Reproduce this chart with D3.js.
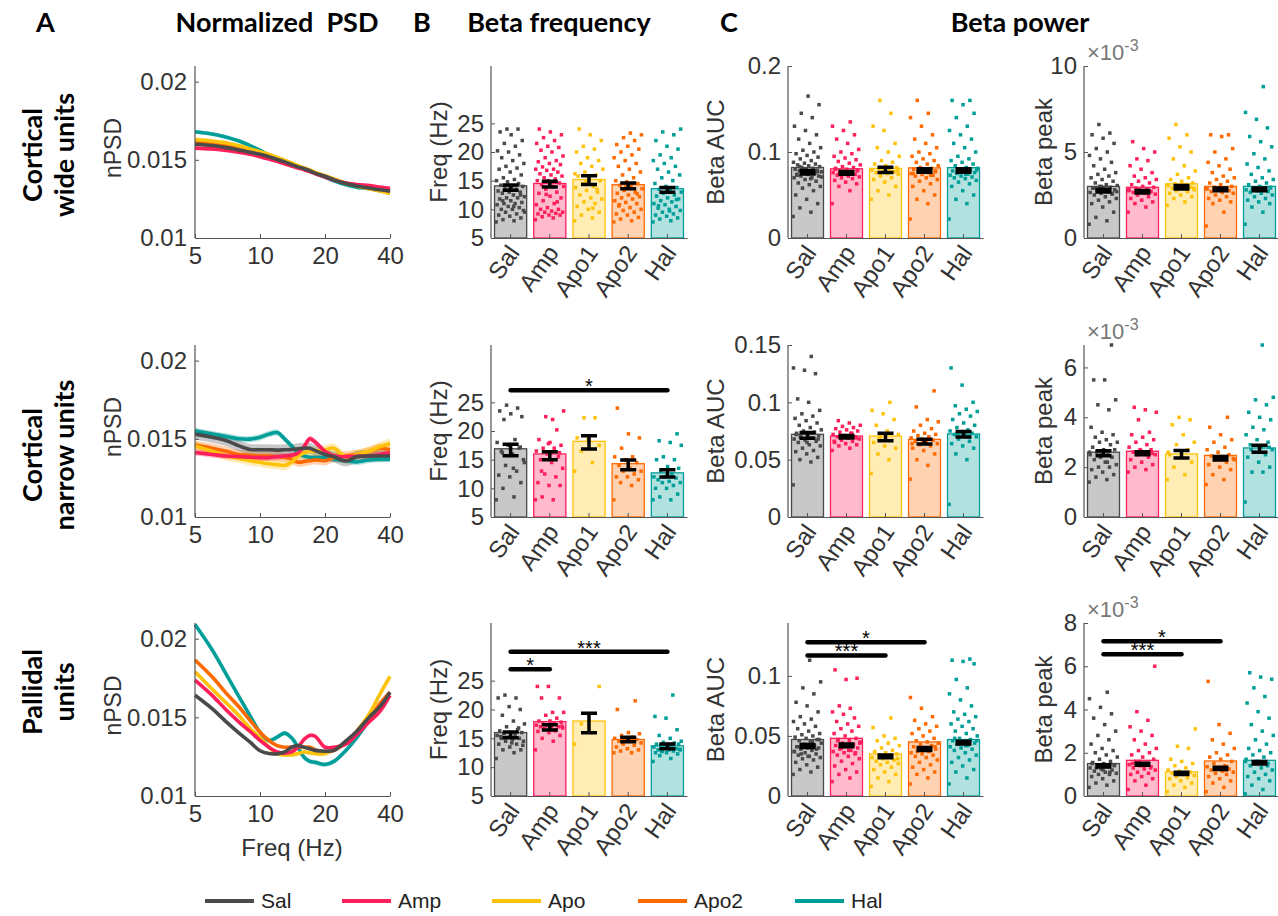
<!DOCTYPE html>
<html>
<head>
<meta charset="utf-8">
<script src="https://cdn.jsdelivr.net/npm/d3@7"></script>
<style>
  body { margin: 0; background: #fff; }
</style>
</head>
<body>
<div id="chart-area"></div>
<script>
// ---- data ----
var groups = ["Sal", "Amp", "Apo1", "Apo2", "Hal"];
var legendLabels = ["Sal", "Amp", "Apo", "Apo2", "Hal"];

// PSD frequency grid (Hz) and normalized PSD per group (Sal, Amp, Apo, Apo2, Hal)
var psdFreq = [5, 6, 7, 8, 9, 10, 11, 12, 13, 14, 15, 16, 17, 18, 20, 22, 25, 28, 32, 36, 40];
var psdWide = [
  [0.0160, 0.01592, 0.01578, 0.01563, 0.01548, 0.01535, 0.0152, 0.01502, 0.01487, 0.0147, 0.01455, 0.01443, 0.0143, 0.01415, 0.01395, 0.01372, 0.01348, 0.01333, 0.0132, 0.01308, 0.0130],
  [0.01575, 0.0157, 0.0156, 0.01548, 0.01535, 0.0152, 0.01505, 0.0149, 0.01475, 0.0146, 0.01448, 0.01437, 0.01425, 0.01412, 0.0139, 0.0137, 0.01352, 0.01342, 0.01335, 0.01325, 0.01318],
  [0.0163, 0.0162, 0.01608, 0.0159, 0.0157, 0.01552, 0.01535, 0.01515, 0.01497, 0.0148, 0.01463, 0.01448, 0.01435, 0.0142, 0.01398, 0.01378, 0.0135, 0.01333, 0.01315, 0.013, 0.01285],
  [0.0161, 0.01602, 0.0159, 0.01573, 0.01557, 0.0154, 0.01523, 0.01505, 0.01488, 0.01472, 0.01457, 0.01444, 0.0143, 0.01418, 0.01397, 0.01375, 0.0135, 0.01334, 0.01322, 0.0131, 0.01298],
  [0.0168, 0.01665, 0.01645, 0.0162, 0.0159, 0.0156, 0.0153, 0.0151, 0.0149, 0.01472, 0.01457, 0.01443, 0.0143, 0.01413, 0.0139, 0.01365, 0.0134, 0.01325, 0.01315, 0.01303, 0.0129]
];
var psdNarrow = [
  [0.0153, 0.0151, 0.01488, 0.01455, 0.01432, 0.0143, 0.0143, 0.01428, 0.0143, 0.01432, 0.01437, 0.0144, 0.0144, 0.01425, 0.0140, 0.01385, 0.01358, 0.01385, 0.0139, 0.0139, 0.0139],
  [0.01413, 0.014, 0.0139, 0.01386, 0.01382, 0.0138, 0.0138, 0.01385, 0.0139, 0.01395, 0.0141, 0.0145, 0.0150, 0.0148, 0.0142, 0.0139, 0.01385, 0.0139, 0.0139, 0.0140, 0.0141],
  [0.01455, 0.0142, 0.0139, 0.01375, 0.0136, 0.0135, 0.0134, 0.01335, 0.0133, 0.0135, 0.0139, 0.0141, 0.0142, 0.0142, 0.0143, 0.0144, 0.0138, 0.0140, 0.0142, 0.0145, 0.0147],
  [0.0146, 0.0144, 0.0142, 0.0140, 0.01395, 0.0139, 0.0139, 0.01385, 0.0138, 0.0137, 0.0135, 0.01355, 0.0136, 0.01365, 0.0136, 0.0138, 0.0139, 0.0140, 0.0142, 0.0144, 0.0143],
  [0.0155, 0.0153, 0.01515, 0.0150, 0.01498, 0.0151, 0.0153, 0.0154, 0.0150, 0.01455, 0.0141, 0.0139, 0.01382, 0.0138, 0.01378, 0.0137, 0.01362, 0.01352, 0.01365, 0.0137, 0.0137]
];
var psdPallidal = [
  [0.01641, 0.01556, 0.0147, 0.0140, 0.01342, 0.01288, 0.0127, 0.01268, 0.0128, 0.0131, 0.0132, 0.0131, 0.0130, 0.0129, 0.01285, 0.0129, 0.0135, 0.0141, 0.0150, 0.0157, 0.0166],
  [0.01737, 0.0164, 0.01545, 0.0147, 0.0141, 0.01353, 0.0131, 0.0128, 0.01272, 0.0128, 0.0131, 0.0136, 0.01385, 0.0138, 0.0131, 0.0131, 0.0133, 0.0139, 0.0147, 0.0154, 0.0164],
  [0.0179, 0.0168, 0.0159, 0.0151, 0.0143, 0.0137, 0.0131, 0.0127, 0.01262, 0.01262, 0.0127, 0.0128, 0.01275, 0.0127, 0.0127, 0.0130, 0.0134, 0.0141, 0.0152, 0.0165, 0.0176],
  [0.01865, 0.01758, 0.01651, 0.01566, 0.0148, 0.01406, 0.01353, 0.0132, 0.0131, 0.0131, 0.01315, 0.0131, 0.0131, 0.01295, 0.01278, 0.0129, 0.0134, 0.0140, 0.0149, 0.0159, 0.0166],
  [0.0209, 0.0193, 0.0177, 0.0163, 0.0151, 0.01406, 0.01353, 0.01374, 0.0140, 0.0137, 0.0131, 0.01246, 0.0122, 0.01214, 0.0120, 0.0122, 0.0129, 0.0137, 0.0148, 0.0158, 0.0164]
];
var psdSemWide = [0.00012, 0.00012, 0.00012, 0.00012, 0.00012];
var psdSemNarrow = [0.00035, 0.0002, 0.0003, 0.0003, 0.0002];
var psdSemPallidal = [0.0001, 0.00012, 0.00015, 0.0001, 0.00015];

// Beta frequency (Hz)
var freqBarWide = [14.1, 14.5, 15.2, 14.3, 13.6];
var freqMeanWide = [13.8, 14.4, 15.1, 14.1, 13.4];
var freqSemWide = [0.45, 0.5, 0.75, 0.5, 0.4];
var freqPtsWide = [
  [7.8, 8, 8.2, 8.5, 8.8, 9, 9.2, 9.5, 9.8, 10, 10, 10.3, 10.5, 10.8, 11, 11, 11.2, 11.5, 11.8, 12, 12, 12.2, 12.5, 12.8, 13, 13, 13.2, 13.5, 13.8, 14, 14, 14.2, 14.5, 14.8, 15, 15.2, 15.5, 16, 16.5, 17, 17.2, 17.5, 18, 18.5, 19, 19.5, 20, 20.2, 21, 21.5, 22, 23, 23.5, 24, 24, 9.5, 10.5, 11.5, 12.5, 13.5],
  [8.2, 8.5, 8.7, 9, 9, 9.2, 9.3, 9.5, 9.5, 9.7, 10, 10, 10.3, 10.8, 11, 11.5, 12, 12.3, 12.8, 13, 13.5, 14, 14, 14.3, 14.6, 15, 15, 15.3, 15.5, 15.8, 16, 16.2, 16.5, 16.8, 17, 17, 17.4, 17.8, 18, 18.3, 18.5, 19, 19.3, 20, 20.3, 20.8, 21, 21.5, 22, 22.5, 23, 23.5, 24, 11.3, 12.6],
  [8, 8.5, 9, 9.5, 10, 10.5, 11, 11.3, 11.8, 12, 12.5, 13, 13.3, 13.8, 14, 14.5, 15, 15.3, 15.8, 16, 16.5, 17, 17.5, 18, 18.5, 19, 20, 20.5, 21, 22, 23, 24, 13.5, 14.8, 16.2, 10.2],
  [7.8, 8, 8.3, 8.6, 9, 9.2, 9.5, 9.8, 10, 10.3, 10.6, 11, 11.2, 11.5, 11.8, 12, 12.2, 12.5, 12.8, 13, 13.3, 13.6, 14, 14.2, 14.5, 14.8, 15, 15.5, 16, 16.5, 17, 17.5, 18, 18.5, 19, 19.5, 20, 20.5, 21, 21.3, 22, 22.5, 23, 23.3, 10.8, 12.7, 13.9],
  [7.8, 8, 8.3, 8.5, 8.8, 9, 9.2, 9.5, 9.8, 10, 10.2, 10.5, 10.8, 11, 11.3, 11.5, 11.8, 12, 12.3, 12.5, 12.8, 13, 13.3, 13.5, 13.8, 14, 14.5, 15, 15.5, 16, 16.5, 17, 17.5, 18, 18.5, 19, 19.5, 20.5, 21, 22, 23, 23.5, 24, 9.7, 10.6, 11.7]
];
var freqBarNarrow = [16.9, 16.0, 18.2, 14.3, 12.7];
var freqMeanNarrow = [16.7, 15.7, 18.0, 14.1, 12.6];
var freqSemNarrow = [1.0, 0.7, 1.15, 0.85, 0.63];
var freqPtsNarrow = [
  [8, 8.5, 10, 11, 12, 12.3, 13, 14, 15, 16, 16.5, 17, 17.5, 18, 18.5, 22, 22.5, 23, 23.5, 24, 24.5, 14.5, 13.5, 16.2, 17.2],
  [8, 8, 8.5, 10.5, 10.5, 11, 12, 12.5, 13.5, 14.5, 15, 15.5, 16, 16.5, 17, 17, 17.5, 18, 18.5, 20.2, 22.5, 23.5, 22, 13, 16.2, 17.8],
  [13, 14.5, 16.5, 17.5, 18.5, 18.8, 22.3, 22.3],
  [8, 10.5, 11, 11.5, 12, 12, 12.5, 13, 13, 13.5, 14, 14.5, 15, 15.5, 15.5, 17, 18.8, 19.5, 24],
  [8, 8, 8.5, 9, 10, 10, 10.5, 11, 11, 11.2, 11.5, 11.8, 12, 12, 12.5, 13, 13.5, 13.8, 15, 15, 15.5, 17.5, 18, 18.3, 19.5]
];
var freqSigNarrow = [[0, 4, 27.1, "*"]];
var freqBarPall = [16.0, 17.9, 18.0, 14.8, 13.7];
var freqMeanPall = [15.6, 16.9, 17.65, 14.8, 13.6];
var freqSemPall = [0.5, 0.45, 1.7, 0.4, 0.4];
var freqPtsPall = [
  [11.5, 12.5, 13, 13, 13.5, 14, 14, 14.5, 14.5, 14.8, 15, 15, 15.2, 15.5, 15.5, 15.8, 16, 16, 16.3, 16.5, 17, 17.5, 18, 19, 20, 20.5, 22, 22, 22.5, 13.8, 14.2, 15.3, 16.8],
  [13, 14.5, 15, 15.5, 16, 16.2, 16.5, 16.5, 16.8, 17, 17, 17, 17.2, 17.3, 17.5, 17.5, 17.8, 18, 18, 18.5, 19, 19.5, 19.5, 22, 22, 24, 24, 16.3, 16.7, 17.1, 17.4],
  [14, 16, 17.5, 24],
  [12.5, 12.5, 12.8, 13, 13.2, 13.5, 13.8, 14, 14.2, 14.5, 14.5, 14.8, 15, 15, 15.2, 15.5, 15.8, 16, 20, 21.5],
  [11, 11.5, 12, 12.3, 12.5, 12.5, 12.8, 12.8, 13, 13, 13, 13.2, 13.3, 13.5, 13.5, 13.8, 14, 14, 14, 14.2, 14.3, 14.5, 15, 15.5, 16.5, 18.5, 18.8, 22.5, 12.7, 13.1, 13.7]
];
var freqSigPall = [[0, 4, 30, "***"], [0, 1, 27, "*"]];

// Beta AUC
var aucBarWide = [0.082, 0.0805, 0.081, 0.0815, 0.0818];
var aucMeanWide = [0.0765, 0.0757, 0.0792, 0.0785, 0.0785];
var aucSemWide = [0.002, 0.0015, 0.003, 0.002, 0.002];
var aucPtsWide = [
  [0.025, 0.03, 0.035, 0.04, 0.045, 0.05, 0.055, 0.058, 0.06, 0.062, 0.064, 0.066, 0.068, 0.07, 0.07, 0.072, 0.072, 0.074, 0.074, 0.075, 0.076, 0.077, 0.078, 0.078, 0.079, 0.08, 0.08, 0.081, 0.082, 0.083, 0.084, 0.085, 0.086, 0.087, 0.088, 0.09, 0.092, 0.094, 0.096, 0.098, 0.1, 0.102, 0.105, 0.11, 0.115, 0.12, 0.125, 0.13, 0.14, 0.145, 0.155, 0.165, 0.073, 0.076, 0.079, 0.071, 0.069, 0.083, 0.077, 0.075],
  [0.04, 0.055, 0.06, 0.063, 0.065, 0.067, 0.069, 0.07, 0.071, 0.072, 0.073, 0.074, 0.075, 0.076, 0.077, 0.078, 0.079, 0.08, 0.081, 0.082, 0.083, 0.085, 0.087, 0.089, 0.091, 0.093, 0.095, 0.098, 0.1, 0.103, 0.11, 0.115, 0.12, 0.125, 0.13, 0.135, 0.075, 0.078, 0.074, 0.08],
  [0.045, 0.05, 0.055, 0.06, 0.065, 0.068, 0.07, 0.072, 0.074, 0.075, 0.076, 0.077, 0.078, 0.079, 0.08, 0.081, 0.082, 0.084, 0.086, 0.088, 0.09, 0.095, 0.1, 0.105, 0.11, 0.125, 0.13, 0.145, 0.16, 0.078, 0.076],
  [0.022, 0.04, 0.045, 0.05, 0.055, 0.06, 0.063, 0.066, 0.068, 0.07, 0.072, 0.073, 0.074, 0.075, 0.076, 0.077, 0.078, 0.079, 0.08, 0.081, 0.082, 0.084, 0.086, 0.088, 0.09, 0.092, 0.095, 0.098, 0.1, 0.105, 0.11, 0.115, 0.12, 0.13, 0.14, 0.145, 0.16, 0.077, 0.079, 0.075, 0.073],
  [0.022, 0.04, 0.045, 0.05, 0.055, 0.06, 0.063, 0.065, 0.067, 0.069, 0.07, 0.071, 0.072, 0.073, 0.074, 0.075, 0.076, 0.077, 0.078, 0.079, 0.08, 0.081, 0.082, 0.084, 0.086, 0.088, 0.09, 0.092, 0.095, 0.1, 0.105, 0.11, 0.115, 0.12, 0.125, 0.13, 0.14, 0.145, 0.155, 0.16, 0.16, 0.077, 0.079, 0.074]
];
var aucBarNarrow = [0.0721, 0.0706, 0.0706, 0.0677, 0.0724];
var aucMeanNarrow = [0.0712, 0.070, 0.0697, 0.0657, 0.0721];
var aucSemNarrow = [0.0025, 0.001, 0.0033, 0.002, 0.0024];
var aucPtsNarrow = [
  [0.028, 0.048, 0.05, 0.052, 0.055, 0.057, 0.058, 0.06, 0.062, 0.063, 0.065, 0.066, 0.067, 0.068, 0.069, 0.07, 0.071, 0.072, 0.073, 0.074, 0.075, 0.076, 0.078, 0.08, 0.082, 0.084, 0.086, 0.088, 0.09, 0.093, 0.1, 0.103, 0.125, 0.128, 0.13, 0.14, 0.07, 0.068, 0.065, 0.072],
  [0.058, 0.06, 0.062, 0.063, 0.064, 0.065, 0.066, 0.067, 0.068, 0.069, 0.07, 0.07, 0.071, 0.072, 0.073, 0.074, 0.075, 0.076, 0.077, 0.078, 0.079, 0.08, 0.082, 0.084, 0.069, 0.071, 0.066, 0.073],
  [0.038, 0.05, 0.055, 0.06, 0.062, 0.065, 0.067, 0.07, 0.072, 0.075, 0.08, 0.085, 0.09, 0.093, 0.1, 0.068],
  [0.033, 0.045, 0.05, 0.055, 0.058, 0.06, 0.062, 0.063, 0.064, 0.065, 0.066, 0.067, 0.068, 0.069, 0.07, 0.071, 0.072, 0.073, 0.075, 0.077, 0.08, 0.083, 0.085, 0.096, 0.11, 0.066, 0.064],
  [0.011, 0.05, 0.055, 0.06, 0.062, 0.064, 0.066, 0.068, 0.07, 0.071, 0.072, 0.073, 0.074, 0.075, 0.076, 0.078, 0.08, 0.082, 0.085, 0.088, 0.09, 0.092, 0.094, 0.097, 0.1, 0.115, 0.13, 0.07, 0.073]
];
var aucBarPall = [0.047, 0.048, 0.035, 0.045, 0.047];
var aucMeanPall = [0.0416, 0.0421, 0.033, 0.0391, 0.0444];
var aucSemPall = [0.0012, 0.0012, 0.0012, 0.0012, 0.0012];
var aucPtsPall = [
  [0.018, 0.02, 0.022, 0.024, 0.026, 0.028, 0.03, 0.031, 0.032, 0.033, 0.034, 0.035, 0.036, 0.037, 0.038, 0.039, 0.04, 0.04, 0.041, 0.042, 0.043, 0.044, 0.045, 0.046, 0.047, 0.048, 0.049, 0.05, 0.051, 0.052, 0.054, 0.056, 0.058, 0.06, 0.062, 0.064, 0.066, 0.07, 0.075, 0.078, 0.085, 0.09, 0.095, 0.113, 0.041, 0.039, 0.043, 0.037, 0.045, 0.035, 0.047, 0.033],
  [0.012, 0.015, 0.018, 0.02, 0.022, 0.025, 0.027, 0.029, 0.031, 0.033, 0.034, 0.035, 0.036, 0.037, 0.038, 0.039, 0.04, 0.041, 0.042, 0.043, 0.044, 0.045, 0.046, 0.047, 0.048, 0.05, 0.052, 0.054, 0.056, 0.058, 0.06, 0.062, 0.065, 0.068, 0.07, 0.073, 0.075, 0.098, 0.097, 0.105, 0.042, 0.04, 0.044, 0.038, 0.046, 0.036],
  [0.008, 0.012, 0.015, 0.018, 0.02, 0.022, 0.024, 0.026, 0.027, 0.028, 0.029, 0.03, 0.031, 0.032, 0.033, 0.034, 0.035, 0.036, 0.037, 0.038, 0.04, 0.042, 0.044, 0.046, 0.048, 0.05, 0.057, 0.065, 0.033, 0.031],
  [0.01, 0.015, 0.018, 0.02, 0.022, 0.024, 0.026, 0.028, 0.03, 0.032, 0.033, 0.034, 0.035, 0.036, 0.037, 0.038, 0.039, 0.04, 0.041, 0.042, 0.043, 0.044, 0.045, 0.046, 0.048, 0.05, 0.052, 0.054, 0.056, 0.058, 0.06, 0.063, 0.066, 0.073, 0.082, 0.039, 0.037, 0.041],
  [0.01, 0.015, 0.02, 0.022, 0.025, 0.028, 0.03, 0.032, 0.034, 0.036, 0.038, 0.039, 0.04, 0.041, 0.042, 0.043, 0.044, 0.045, 0.046, 0.047, 0.048, 0.05, 0.052, 0.054, 0.056, 0.058, 0.06, 0.062, 0.064, 0.066, 0.068, 0.07, 0.075, 0.08, 0.085, 0.09, 0.097, 0.11, 0.112, 0.113, 0.114, 0.044, 0.046, 0.042, 0.048]
];
var aucSigPall = [[0, 3, 0.128, "*"], [0, 2, 0.117, "***"]];

// Beta peak (x 10^-3)
var peakBarWide = [3.0, 2.95, 3.15, 3.0, 3.0];
var peakMeanWide = [2.75, 2.69, 2.95, 2.83, 2.83];
var peakSemWide = [0.08, 0.07, 0.1, 0.08, 0.08];
var peakPtsWide = [
  [0.8, 1, 1.2, 1.5, 1.8, 2, 2.1, 2.2, 2.3, 2.4, 2.5, 2.55, 2.6, 2.65, 2.7, 2.75, 2.8, 2.85, 2.9, 2.95, 3, 3.05, 3.1, 3.2, 3.3, 3.4, 3.5, 3.6, 3.7, 3.8, 4, 4.2, 4.4, 4.6, 4.8, 5, 5.2, 5.5, 5.8, 6, 6.1, 6.6, 2.7, 2.8, 2.9, 2.6, 3],
  [1.5, 1.8, 2, 2.1, 2.2, 2.3, 2.4, 2.5, 2.55, 2.6, 2.65, 2.7, 2.75, 2.8, 2.85, 2.9, 2.95, 3, 3.1, 3.2, 3.3, 3.4, 3.5, 3.6, 3.8, 4, 4.2, 4.5, 4.6, 5, 5.2, 5.6, 2.7, 2.8, 2.75],
  [1.9, 2.1, 2.3, 2.4, 2.5, 2.6, 2.7, 2.75, 2.8, 2.85, 2.9, 2.95, 3, 3.05, 3.1, 3.15, 3.2, 3.3, 3.4, 3.5, 3.7, 3.9, 4.2, 4.6, 5, 5.3, 5.8, 6, 6.6, 2.9, 3],
  [0.7, 1.5, 2, 2.1, 2.2, 2.3, 2.4, 2.5, 2.6, 2.65, 2.7, 2.75, 2.8, 2.85, 2.9, 2.95, 3, 3.1, 3.2, 3.3, 3.4, 3.5, 3.6, 3.8, 4, 4.2, 4.4, 4.6, 5, 5.2, 5.9, 6, 6, 2.8, 2.9, 2.85],
  [0.8, 1.5, 1.8, 2, 2.1, 2.2, 2.3, 2.4, 2.5, 2.6, 2.65, 2.7, 2.75, 2.8, 2.85, 2.9, 2.95, 3, 3.1, 3.2, 3.3, 3.4, 3.5, 3.7, 3.9, 4.1, 4.3, 4.6, 4.9, 5.3, 5.6, 5.9, 6.4, 6.9, 7.3, 8.8, 2.8, 2.9]
];
var peakBarNarrow = [2.6, 2.64, 2.53, 2.47, 2.77];
var peakMeanNarrow = [2.56, 2.56, 2.52, 2.36, 2.74];
var peakSemNarrow = [0.1, 0.06, 0.15, 0.07, 0.14];
var peakPtsNarrow = [
  [1.4, 1.5, 1.6, 1.7, 1.8, 1.9, 2, 2, 2.1, 2.2, 2.3, 2.4, 2.5, 2.5, 2.6, 2.6, 2.7, 2.7, 2.8, 2.9, 3, 3, 3.1, 3.2, 3.3, 3.4, 3.6, 4.3, 4.5, 4.7, 5.5, 5.5, 6.9, 2.4, 2.6, 2.2],
  [1.8, 1.9, 2, 2.1, 2.2, 2.3, 2.4, 2.5, 2.5, 2.6, 2.6, 2.7, 2.7, 2.8, 2.9, 3, 3.1, 3.2, 3.3, 3.4, 3.9, 4.2, 4.3, 4.4, 2.55, 2.65],
  [1.5, 1.7, 2, 2.2, 2.4, 2.5, 2.7, 2.9, 3, 3.3, 3.7, 3.9, 4, 2.6],
  [1.3, 1.5, 1.7, 1.9, 2, 2.1, 2.2, 2.3, 2.35, 2.4, 2.45, 2.5, 2.6, 2.7, 2.8, 3, 3.1, 3.3, 3.6, 4, 2.4, 2.3],
  [0.6, 1.8, 1.8, 2, 2.2, 2.4, 2.5, 2.6, 2.7, 2.8, 2.9, 3, 3.1, 3.3, 3.5, 3.6, 3.9, 4, 4.2, 4.5, 4.7, 4.8, 6.9, 2.7, 2.8]
];
var peakBarPall = [1.5, 1.65, 1.12, 1.62, 1.65];
var peakMeanPall = [1.39, 1.47, 1.05, 1.28, 1.54];
var peakSemPall = [0.05, 0.05, 0.05, 0.05, 0.06];
var peakPtsPall = [
  [0.4, 0.5, 0.6, 0.7, 0.8, 0.9, 1, 1, 1.05, 1.1, 1.15, 1.2, 1.25, 1.3, 1.35, 1.4, 1.45, 1.5, 1.55, 1.6, 1.7, 1.8, 1.9, 2, 2.1, 2.2, 2.4, 2.6, 2.8, 3, 3.3, 3.6, 3.8, 4.1, 4.5, 4.8, 1.3, 1.4, 1.2, 1.5, 1.1],
  [0.3, 0.5, 0.7, 0.8, 0.9, 1, 1.05, 1.1, 1.2, 1.25, 1.3, 1.35, 1.4, 1.45, 1.5, 1.6, 1.7, 1.8, 1.9, 2, 2.1, 2.2, 2.4, 2.6, 2.8, 3, 3.2, 3.5, 3.9, 6, 1.4, 1.5, 1.3, 1.6],
  [0.2, 0.4, 0.5, 0.6, 0.7, 0.8, 0.85, 0.9, 0.95, 1, 1.05, 1.1, 1.15, 1.2, 1.3, 1.4, 1.5, 1.6, 1.7, 2.2, 2.3, 3.1, 1, 1.05],
  [0.2, 0.4, 0.6, 0.7, 0.8, 0.9, 1, 1.05, 1.1, 1.15, 1.2, 1.25, 1.3, 1.35, 1.4, 1.5, 1.6, 1.7, 1.8, 1.9, 2, 2.2, 2.4, 2.6, 2.9, 3.3, 5.3, 1.2, 1.3],
  [0.1, 0.3, 0.5, 0.7, 0.8, 0.9, 1, 1.1, 1.2, 1.3, 1.4, 1.5, 1.6, 1.7, 1.8, 1.9, 2, 2.1, 2.2, 2.4, 2.6, 2.8, 3, 3.3, 3.6, 3.9, 4.3, 4.6, 5, 5.4, 5.5, 5.7, 1.4, 1.5, 1.6]
];
var peakSigPall = [[0, 3, 7.16, "*"], [0, 2, 6.56, "***"]];

// ---- drawing ----
var colors = ["#4a4a4a", "#ff1f5b", "#ffc20a", "#ff6a00", "#009e98"];
var axisColor = "#555";
var textColor = "#333";
var plainFont = "Arial, 'Liberation Sans', Helvetica, sans-serif";
var boldFont = "Lato, 'Open Sans', sans-serif";
var tickSize = 24;
var rowTop = [66, 345, 623];
var rowBot = [238, 517, 796];

var svg = d3.select("#chart-area")
  .append("svg")
  .attr("width", 1278)
  .attr("height", 916)
  .style("font-family", plainFont);

function styleAxis(g, size) {
  g.attr("font-family", null).attr("font-size", size);
  g.select(".domain").attr("stroke", axisColor).attr("stroke-width", 1.2);
  g.selectAll(".tick line").attr("stroke", axisColor);
  g.selectAll(".tick text").attr("fill", textColor);
}

function yLabel(x, y, text, size) {
  svg.append("text")
    .attr("transform", "translate(" + x + "," + y + ") rotate(-90)")
    .attr("text-anchor", "middle")
    .attr("font-size", size)
    .attr("fill", textColor)
    .text(text);
}

function psdPanel(r, curves, sem) {
  var x = d3.scaleLog().domain([5, 40]).range([195, 390]);
  var y = d3.scaleLinear().domain([0.01, 0.021]).range([rowBot[r], rowTop[r]]);
  var g = svg.append("g");
  var order = [4, 3, 2, 1, 0];

  order.forEach(function(k) {
    var area = d3.area()
      .x(function(d, i) { return x(psdFreq[i]); })
      .y0(function(d) { return y(d - sem[k]); })
      .y1(function(d) { return y(d + sem[k]); })
      .curve(d3.curveCatmullRom);
    g.append("path").datum(curves[k])
      .attr("d", area)
      .attr("fill", colors[k])
      .attr("fill-opacity", 0.3);
  });
  order.forEach(function(k) {
    var line = d3.line()
      .x(function(d, i) { return x(psdFreq[i]); })
      .y(function(d) { return y(d); })
      .curve(d3.curveCatmullRom);
    g.append("path").datum(curves[k])
      .attr("d", line)
      .attr("fill", "none")
      .attr("stroke", colors[k])
      .attr("stroke-width", 3.6);
  });

  var xa = g.append("g")
    .attr("transform", "translate(0," + rowBot[r] + ")")
    .call(d3.axisBottom(x).tickValues([5, 10, 20, 40]).tickFormat(d3.format("d"))
      .tickSizeInner(-4).tickSizeOuter(0).tickPadding(9));
  styleAxis(xa, tickSize);
  var ya = g.append("g")
    .attr("transform", "translate(195,0)")
    .call(d3.axisLeft(y).tickValues([0.01, 0.015, 0.02]).tickFormat(function(d) { return String(+d.toFixed(3)); })
      .tickSizeInner(-4).tickSizeOuter(0).tickPadding(8));
  styleAxis(ya, tickSize);
  ya.select(".domain").attr("d", "M0," + rowBot[r] + "V" + rowTop[r]);

  yLabel(121, (rowTop[r] + rowBot[r]) / 2 - 4, "nPSD", 23);
}

function barPanel(x0, x1, r, yDomain, yTicks, fmt, bars, means, sems, pts, sig, expo) {
  var x = d3.scaleBand().domain(groups).range([x0, x1]).paddingInner(0.18).paddingOuter(0.09);
  var y = d3.scaleLinear().domain(yDomain).range([rowBot[r], rowTop[r]]);
  var bw = x.bandwidth();
  var g = svg.append("g");

  g.selectAll(".bar").data(bars).enter()
    .append("rect")
    .attr("x", function(d, i) { return x(groups[i]); })
    .attr("y", function(d) { return y(d); })
    .attr("width", bw)
    .attr("height", function(d) { return rowBot[r] - y(d); })
    .attr("fill", function(d, i) { return colors[i]; })
    .attr("fill-opacity", 0.3)
    .attr("stroke", function(d, i) { return colors[i]; })
    .attr("stroke-width", 1.3);

  pts.forEach(function(list, k) {
    g.selectAll(".p" + k).data(list).enter()
      .append("rect")
      .attr("x", function(d, i) {
        var jit = ((i * 0.6180339887) % 1) - 0.5;
        return x(groups[k]) + bw / 2 + jit * bw * 0.9 - 1.75;
      })
      .attr("y", function(d) { return y(d) - 1.75; })
      .attr("width", 3.5)
      .attr("height", 3.5)
      .attr("fill", colors[k]);
  });

  means.forEach(function(m, k) {
    var cx = x(groups[k]) + bw / 2;
    var lo = y(m - sems[k]), hi = y(m + sems[k]);
    g.append("path")
      .attr("d", "M" + cx + "," + lo + "V" + hi +
        "M" + (cx - 8) + "," + lo + "H" + (cx + 8) +
        "M" + (cx - 8) + "," + hi + "H" + (cx + 8))
      .attr("fill", "none")
      .attr("stroke", "#000")
      .attr("stroke-width", 3.5);
  });

  sig.forEach(function(s) {
    var xa = x(groups[s[0]]) + bw / 2, xb = x(groups[s[1]]) + bw / 2;
    g.append("line")
      .attr("x1", xa).attr("x2", xb)
      .attr("y1", y(s[2])).attr("y2", y(s[2]))
      .attr("stroke", "#000").attr("stroke-width", 4.5).attr("stroke-linecap", "round");
    g.append("text")
      .attr("x", (xa + xb) / 2).attr("y", y(s[2]) + 3)
      .attr("text-anchor", "middle")
      .attr("font-size", 20)
      .attr("fill", "#000")
      .text(s[3]);
  });

  var xAxis = g.append("g")
    .attr("transform", "translate(0," + rowBot[r] + ")")
    .call(d3.axisBottom(x).tickSizeInner(-4).tickSizeOuter(0));
  styleAxis(xAxis, tickSize);
  xAxis.selectAll(".tick text")
    .attr("x", 0).attr("y", 0).attr("dy", "0.35em")
    .attr("transform", "translate(3,10) rotate(-55)")
    .attr("text-anchor", "end");

  var yAxis = g.append("g")
    .attr("transform", "translate(" + x0 + ",0)")
    .call(d3.axisLeft(y).tickValues(yTicks).tickFormat(fmt)
      .tickSizeInner(-4).tickSizeOuter(0).tickPadding(7));
  styleAxis(yAxis, tickSize);
  yAxis.select(".domain").attr("d", "M0," + rowBot[r] + "V" + rowTop[r]);

  if (expo) {
    var t = svg.append("text")
      .attr("x", x0 + 3).attr("y", rowTop[r] - 6)
      .attr("font-size", 22).attr("fill", "#777");
    t.append("tspan").text("\u00d7");
    t.append("tspan").text("10");
    t.append("tspan").attr("dy", -9).attr("font-size", 16).text("-3");
  }
}

var fmtNum = function(d) { return String(+d.toFixed(3)); };

psdPanel(0, psdWide, psdSemWide);
psdPanel(1, psdNarrow, psdSemNarrow);
psdPanel(2, psdPallidal, psdSemPallidal);

barPanel(491, 687, 0, [5, 35], [5, 10, 15, 20, 25], fmtNum, freqBarWide, freqMeanWide, freqSemWide, freqPtsWide, [], false);
barPanel(491, 687, 1, [5, 35], [5, 10, 15, 20, 25], fmtNum, freqBarNarrow, freqMeanNarrow, freqSemNarrow, freqPtsNarrow, freqSigNarrow, false);
barPanel(491, 687, 2, [5, 35], [5, 10, 15, 20, 25], fmtNum, freqBarPall, freqMeanPall, freqSemPall, freqPtsPall, freqSigPall, false);

barPanel(788, 983, 0, [0, 0.2], [0, 0.1, 0.2], fmtNum, aucBarWide, aucMeanWide, aucSemWide, aucPtsWide, [], false);
barPanel(788, 983, 1, [0, 0.15], [0, 0.05, 0.1, 0.15], fmtNum, aucBarNarrow, aucMeanNarrow, aucSemNarrow, aucPtsNarrow, [], false);
barPanel(788, 983, 2, [0, 0.144], [0, 0.05, 0.1], fmtNum, aucBarPall, aucMeanPall, aucSemPall, aucPtsPall, aucSigPall, false);

barPanel(1084, 1279, 0, [0, 10], [0, 5, 10], fmtNum, peakBarWide, peakMeanWide, peakSemWide, peakPtsWide, [], true);
barPanel(1084, 1279, 1, [0, 6.9], [0, 2, 4, 6], fmtNum, peakBarNarrow, peakMeanNarrow, peakSemNarrow, peakPtsNarrow, [], true);
barPanel(1084, 1279, 2, [0, 8], [0, 2, 4, 6, 8], fmtNum, peakBarPall, peakMeanPall, peakSemPall, peakPtsPall, peakSigPall, true);

// axis labels
rowTop.forEach(function(t, r) {
  var cy = (t + rowBot[r]) / 2;
  yLabel(447, cy, "Freq (Hz)", 24);
  yLabel(724, cy, "Beta AUC", 24);
  yLabel(1052, cy, "Beta peak", 24);
});
svg.append("text")
  .attr("x", 292).attr("y", 856)
  .attr("text-anchor", "middle")
  .attr("font-size", 24)
  .attr("fill", textColor)
  .text("Freq (Hz)");

// titles and panel letters
[["A", 36, "start"], ["B", 413, "start"], ["C", 720, "start"],
 ["Normalized\u00a0\u00a0PSD", 277, "middle"], ["Beta frequency", 559, "middle"], ["Beta power", 1020, "middle"]]
  .forEach(function(d) {
    svg.append("text")
      .attr("x", d[1]).attr("y", 32)
      .attr("text-anchor", d[2])
      .style("font-family", boldFont)
      .attr("font-weight", "bold")
      .attr("font-size", 27)
      .attr("fill", "#000")
      .text(d[0]);
  });

// row labels
var rowLabels = [["Cortical", "wide units"], ["Cortical", "narrow units"], ["Pallidal", "units"]];
var rowCenters = [155, 455, 692];
rowLabels.forEach(function(lines, r) {
  lines.forEach(function(txt, j) {
    svg.append("text")
      .attr("transform", "translate(" + (42 + j * 32) + "," + rowCenters[r] + ") rotate(-90)")
      .attr("text-anchor", "middle")
      .style("font-family", boldFont)
      .attr("font-weight", "bold")
      .attr("font-size", 27)
      .attr("fill", "#000")
      .text(txt);
  });
});

// legend
var legendX = [205, 342, 492, 638, 795];
var legend = svg.append("g");
legendLabels.forEach(function(name, i) {
  legend.append("line")
    .attr("x1", legendX[i]).attr("x2", legendX[i] + 49)
    .attr("y1", 901).attr("y2", 901)
    .attr("stroke", colors[i]).attr("stroke-width", 4);
  legend.append("text")
    .attr("x", legendX[i] + 56).attr("y", 908)
    .style("font-family", "'Liberation Sans Narrow', Arial, 'Liberation Sans', sans-serif")
    .attr("font-size", 21)
    .attr("fill", "#222")
    .text(name);
});
</script>
</body>
</html>
